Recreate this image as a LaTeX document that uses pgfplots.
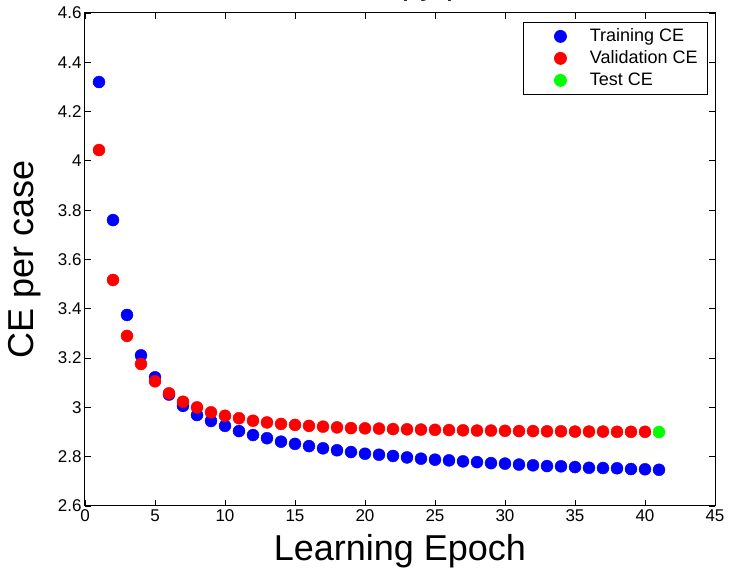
\documentclass[border=0pt]{standalone}
\usepackage{fontspec}
\setmainfont{Liberation Sans}
\usepackage{pgfplots}
\pgfplotsset{compat=1.18}
\pgfplotsset{legimg/.style={legend image code/.code={\draw[##1,only marks] plot coordinates {(30pt,0pt)}; \path (0pt,0pt) (56pt,0pt);}}}
\begin{document}
\begin{tikzpicture}[x=1pt,y=1pt]
\begin{axis}[
  at={(0,0)}, anchor=south west,
  scale only axis, width=630pt, height=493pt,
  xmin=0, xmax=45, ymin=2.6, ymax=4.6,
  xtick={0,5,10,15,20,25,30,35,40,45},
  ytick={2.6,2.8,3,3.2,3.4,3.6,3.8,4,4.2,4.4,4.6},
  tick align=inside,
  major tick length=6pt,
  axis line style={line width=1pt},
  every tick/.style={black, line width=0.8pt},
  /pgf/number format/assume math mode=true,
  tick label style={font=\fontsize{17}{20}\selectfont},
  y tick label style={/pgf/number format/.cd, fixed, precision=1},
  xlabel={Learning Epoch},
  ylabel={CE per case},
  label style={font=\fontsize{36}{42}\selectfont},
  xlabel style={at={(axis description cs:0.5,-0.091)}, anchor=center},
  ylabel style={at={(axis description cs:-0.095,0.5)}, anchor=center},
  title={Cross Entropy per case},
  title style={font=\fontsize{33}{40}\selectfont, at={(axis description cs:0.5,1)}, anchor=base, yshift=12pt},
  legend style={at={(0.98889,0.98174)}, anchor=north east, draw=black, line width=0.8pt,
    fill=white, font=\fontsize{18}{22}\selectfont, inner xsep=7pt, inner ysep=3pt,
    row sep=0pt, nodes={inner sep=3pt, text height=13pt, text depth=3pt}},
  legend cell align=left,
]
\addplot[only marks, mark=*, mark size=6pt, color=blue, legimg] coordinates {
(1,4.320) (2,3.760) (3,3.375) (4,3.211) (5,3.122) (6,3.052) (7,3.006) (8,2.969)
(9,2.945) (10,2.925) (11,2.904) (12,2.888) (13,2.875) (14,2.861) (15,2.852)
(16,2.843) (17,2.834) (18,2.826) (19,2.819) (20,2.812) (21,2.808) (22,2.803)
(23,2.797) (24,2.792) (25,2.788) (26,2.785) (27,2.781) (28,2.778) (29,2.774)
(30,2.772) (31,2.768) (32,2.765) (33,2.762) (34,2.761) (35,2.758) (36,2.755)
(37,2.754) (38,2.753) (39,2.750) (40,2.749) (41,2.747)
};
\addlegendentry{Training CE}
\addplot[only marks, mark=*, mark size=6pt, color=red, legimg] coordinates {
(1,4.044) (2,3.517) (3,3.290) (4,3.176) (5,3.106) (6,3.057) (7,3.023) (8,3.000)
(9,2.980) (10,2.966) (11,2.956) (12,2.946) (13,2.939) (14,2.933) (15,2.929)
(16,2.925) (17,2.922) (18,2.919) (19,2.916) (20,2.915) (21,2.914) (22,2.912)
(23,2.911) (24,2.910) (25,2.909) (26,2.908) (27,2.907) (28,2.906) (29,2.906)
(30,2.905) (31,2.904) (32,2.904) (33,2.903) (34,2.903) (35,2.902) (36,2.902)
(37,2.902) (38,2.901) (39,2.901) (40,2.901)
};
\addlegendentry{Validation CE}
\addplot[only marks, mark=*, mark size=6pt, color=green, legimg] coordinates {
(41,2.900)
};
\addlegendentry{Test CE}
\end{axis}
\pgfresetboundingbox
\useasboundingbox (-85,-64) rectangle (644,506);
\end{tikzpicture}
\end{document}
